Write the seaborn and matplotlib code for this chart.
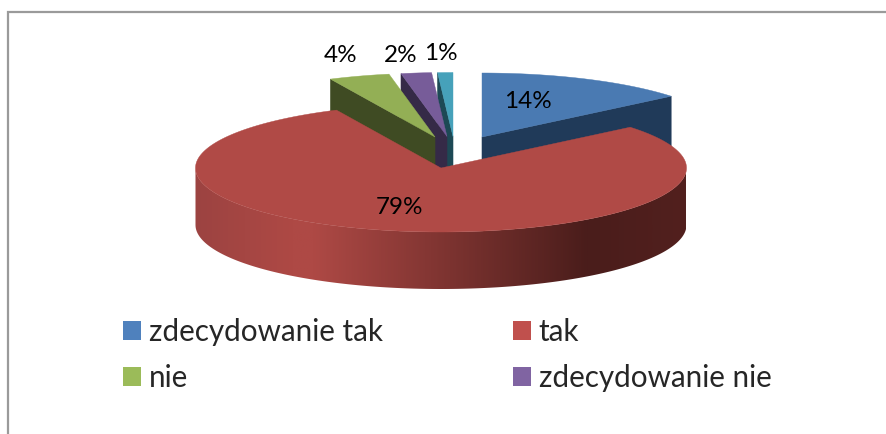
import numpy as np
import matplotlib
matplotlib.use("Agg")
import matplotlib.pyplot as plt
from matplotlib.colors import LinearSegmentedColormap
from matplotlib.patches import Patch, Polygon
import seaborn as sns

# ---- data ----
categories = ["zdecydowanie tak", "tak", "nie", "zdecydowanie nie", "nieznane"]
values = [14, 79, 4, 2, 1]
value_labels = ["14%", "79%", "4%", "2%", "1%"]
legend_order = [0, 2, 1, 3]  # column-filled so rows read: zdec. tak, tak / nie, zdec. nie

# ---- style ----
sns.set_theme(style="white")
plt.rcParams["font.family"] = ["Lato", "DejaVu Sans"]

top_colors = sns.color_palette(["#4A7AB2", "#B04A46", "#93AF55", "#775C99", "#46A1BA"])
side_colors = sns.color_palette(["#203A59", "#4A1D1B", "#3F4B23", "#352A47", "#1D4955"])
swatch_colors = sns.color_palette(["#4F81BD", "#C0504D", "#9BBB59", "#8064A2"])
red_side_stops = [(0.0, "#9C4341"), (0.20, "#AE4945"), (0.24, "#AE4945"),
                  (0.80, "#4A1D1B"), (1.0, "#52201E")]

# ---- layout (pixels) ----
RX, RY, DEPTH = 245.5, 64.0, 57.0
apexes = [(482, 137), (441, 168), (435, 137), (447, 136.5), (453, 136.5)]
label_pos = [(528, 102), (400, 208), (341, 56), (401, 55), (441, 53)]
LABEL_SIZE = 17.5
LEGEND_SIZE = 21.3

fig = plt.figure(figsize=(8.86, 4.34), dpi=100, facecolor="white")
ax = fig.add_axes([0, 0, 1, 1])


def rim(i, a0, a1, n=160):
    """Outer edge of slice i between two clockwise-from-north angles (degrees)."""
    t = np.radians(np.linspace(a0, a1, n))
    cx, cy = apexes[i]
    return np.column_stack([cx + RX * np.sin(t), cy - RY * np.cos(t)])


fractions = np.array(values, dtype=float) / np.sum(values)
edges = np.concatenate([[0.0], np.cumsum(fractions)]) * 360.0
down = np.array([0.0, DEPTH])

# back slices first; red is closest to the viewer and hides their lower parts
for i in [4, 3, 2, 0]:
    apex = np.array(apexes[i], dtype=float)
    arc = rim(i, edges[i], edges[i + 1])
    radial_tip = arc[-1] if i == 0 else arc[0]
    ax.add_patch(Polygon([apex, radial_tip, radial_tip + down, apex + down],
                         closed=True, fc=side_colors[i], ec=side_colors[i], lw=0.4, zorder=2))
    ax.add_patch(Polygon(np.vstack([[apex], arc]), closed=True,
                         fc=top_colors[i], ec=top_colors[i], lw=0.3, zorder=3))

# red slice: shaded wall along the front of the rim, then its top face
front = rim(1, 90, 270)
wall = Polygon(np.vstack([front, (front + down)[::-1]]), closed=True,
               fc="none", ec="none", transform=ax.transData)
ax.add_patch(wall)
wall_cmap = LinearSegmentedColormap.from_list("red_wall", red_side_stops)
x_left, x_right = front[:, 0].min(), front[:, 0].max()
shade = ax.imshow(np.linspace(0, 1, 512)[None, :], cmap=wall_cmap, aspect="auto",
                  extent=(x_left, x_right, front[:, 1].max() + DEPTH, front[:, 1].min()),
                  zorder=4, interpolation="bilinear")
shade.set_clip_path(wall)
apex_red = np.array(apexes[1], dtype=float)
ax.add_patch(Polygon(np.vstack([[apex_red], rim(1, edges[1], edges[2], 400)]), closed=True,
                     fc=top_colors[1], ec=top_colors[1], lw=0.3, zorder=5))

for text, (x, y) in zip(value_labels, label_pos):
    ax.text(x, y, text, ha="center", va="center", fontsize=LABEL_SIZE, color="black", zorder=6)

# chart-area frame, cut off by the crop at the right and bottom
ax.plot([8, 8, 886], [434, 12, 12], color="#9A9A9A", lw=1.6, zorder=1, solid_joinstyle="miter")

handles = [Patch(fc=swatch_colors[i], ec="none", label=categories[i]) for i in legend_order]
leg = ax.legend(handles=handles, ncols=2, frameon=False, fontsize=LEGEND_SIZE,
                loc="upper left", bbox_to_anchor=(123, 318), bbox_transform=ax.transData,
                borderpad=0, borderaxespad=0, handlelength=0.61, handleheight=0.61,
                handletextpad=0.26, columnspacing=4.4, labelspacing=0.62)

ax.set_xlim(0, 886)
ax.set_ylim(434, 0)
ax.axis("off")
fig.savefig("out.png", dpi=100, facecolor="white")
